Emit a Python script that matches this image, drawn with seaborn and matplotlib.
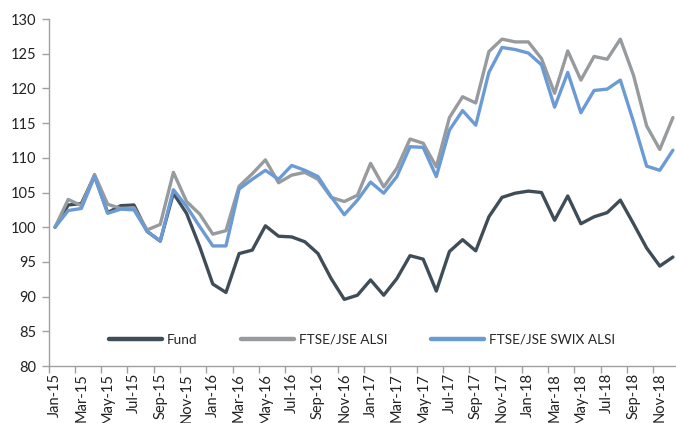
import pandas as pd
import seaborn as sns
import matplotlib.pyplot as plt

months = pd.date_range('2015-01-01', '2018-12-01', freq='MS').strftime('%b-%y').tolist()

fund = [100, 103.2, 103.4, 107.4, 102.1, 103.1, 103.2, 99.4, 98.0, 104.9, 102.0, 97.2,
        91.8, 90.6, 96.2, 96.7, 100.2, 98.7, 98.6, 97.9, 96.2, 92.6, 89.6, 90.2,
        92.4, 90.2, 92.6, 95.9, 95.4, 90.8, 96.5, 98.2, 96.6, 101.5, 104.3, 104.9,
        105.2, 105.0, 101.0, 104.5, 100.5, 101.5, 102.1, 103.9, 100.5, 97.0, 94.4, 95.7]
alsi = [100, 104.0, 103.1, 107.6, 103.3, 102.7, 102.8, 99.6, 100.4, 107.9, 103.7, 101.9,
        99.0, 99.5, 105.9, 107.7, 109.7, 106.4, 107.5, 107.9, 106.9, 104.3, 103.7, 104.6,
        109.2, 105.8, 108.5, 112.7, 112.1, 108.7, 115.8, 118.8, 117.9, 125.3, 127.1, 126.7,
        126.7, 124.3, 119.3, 125.4, 121.2, 124.6, 124.2, 127.1, 121.9, 114.6, 111.2, 115.8]
swix = [100, 102.4, 102.7, 107.3, 102.0, 102.6, 102.5, 99.4, 98.0, 105.4, 103.0, 100.1,
        97.3, 97.3, 105.5, 106.9, 108.2, 106.9, 108.9, 108.2, 107.3, 104.4, 101.8, 103.9,
        106.5, 104.9, 107.3, 111.6, 111.5, 107.3, 114.0, 116.8, 114.7, 122.3, 125.9, 125.6,
        125.1, 123.4, 117.3, 122.3, 116.5, 119.7, 119.9, 121.2, 115.2, 108.8, 108.2, 111.1]

series = ['Fund', 'FTSE/JSE ALSI', 'FTSE/JSE SWIX ALSI']
colors = ['#3e4d57', '#979b9e', '#6b9bd5']

df = pd.DataFrame({'Fund': fund, 'FTSE/JSE ALSI': alsi, 'FTSE/JSE SWIX ALSI': swix})
df['pos'] = range(len(months))
df = df.melt(id_vars='pos', var_name='series', value_name='value')

sns.set_style('white')
plt.rcParams['font.family'] = ['Lato', 'DejaVu Sans']

fig = plt.figure(figsize=(6.76, 4.23), dpi=100)
ax = fig.add_axes([48.5 / 676, 57 / 423, 631 / 676, 347 / 423])

sns.lineplot(data=df, x='pos', y='value', hue='series', hue_order=series,
             palette=colors, linewidth=2.4, ax=ax)

ax.set_xlim(-0.5, len(months) - 0.5)
ax.set_ylim(80, 130)
ax.set_yticks(range(80, 131, 5))
ax.set_xticks(range(0, len(months), 2))
ax.set_xticklabels(months[::2], rotation=90)
ax.set_xticks([i - 0.5 for i in range(0, len(months), 2)], minor=True)
ax.tick_params(axis='x', which='major', length=0, pad=5, labelsize=10.5, colors='#222222')
ax.tick_params(axis='x', which='minor', length=5, width=1, color='#a0a0a0', direction='out', bottom=True)
ax.tick_params(axis='y', length=5, width=1, color='#a0a0a0', direction='out', left=True,
               labelsize=10.5, labelcolor='#222222', pad=4)
ax.set_xlabel('')
ax.set_ylabel('')

for s in ['top', 'right']:
    ax.spines[s].set_visible(False)
for s in ['left', 'bottom']:
    ax.spines[s].set_color('#a0a0a0')
    ax.spines[s].set_linewidth(1)

ax.legend(loc='center', bbox_to_anchor=(0.497, 0.075), ncol=3, frameon=False,
          fontsize=9.8, handlelength=3.9, handletextpad=0.37, columnspacing=3.2)
for line in ax.get_legend().get_lines():
    line.set_linewidth(3.2)

fig.savefig('out.png', dpi=100)
